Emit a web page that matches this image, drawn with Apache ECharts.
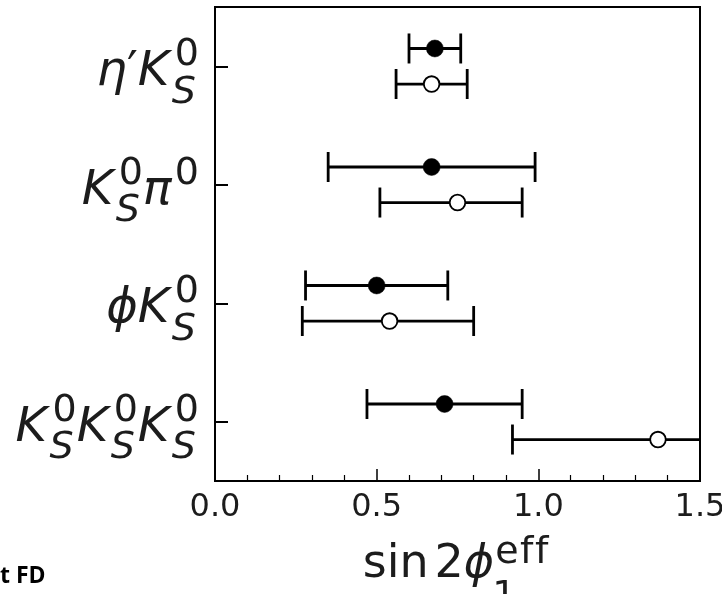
<!DOCTYPE html>
<html>
<head>
<meta charset="utf-8">
<script src="https://cdn.jsdelivr.net/npm/echarts@6/dist/echarts.min.js"></script>
<style>
  html, body { margin: 0; padding: 0; background: #fff; }
  #chart { width: 722px; height: 594px; }
</style>
</head>
<body>
<div id="chart"></div>
<script>
// Decay modes, top to bottom. "_x" is a subscript, "^x" a superscript,
// "{...}" groups an upright multi-letter script, "\sin" is an upright operator.
const categories = ['η′K_S^0', 'K_S^0π^0', 'ϕK_S^0', 'K_S^0K_S^0K_S^0'];
const xTitle = '\\sin 2ϕ_1^{eff}';
const xTickLabels = ['0.0', '0.5', '1.0', '1.5'];
const footnote = 't FD';

// Filled markers: central value and lower / upper end of the error bar
const filledValue = [0.68, 0.67, 0.50, 0.71];
const filledLow   = [0.60, 0.35, 0.28, 0.47];
const filledHigh  = [0.76, 0.99, 0.72, 0.95];

// Open markers: central value and lower / upper end of the error bar
const openValue = [0.67, 0.75, 0.54, 1.37];
const openLow   = [0.56, 0.51, 0.27, 0.92];
const openHigh  = [0.78, 0.95, 0.80, 1.82];

const FONT = '"DejaVu Sans"';
const TEXT_COLOR = '#1c1c1c';

// ---- small math-text layout helper (base glyphs with stacked sub/superscripts) ----
const measureCtx = document.createElement('canvas').getContext('2d');
function measure(text, font) {
  measureCtx.font = font;
  measureCtx.textBaseline = 'alphabetic';
  return measureCtx.measureText(text);
}
// distance from the "middle" baseline (used by zrender) down to the alphabetic baseline
function middleToBaseline(font) {
  measureCtx.font = font;
  measureCtx.textBaseline = 'middle';
  const d = measureCtx.measureText('H').actualBoundingBoxDescent;
  measureCtx.textBaseline = 'alphabetic';
  return d;
}
function parseMath(src) {
  const pieces = [];
  let i = 0;
  const readArg = () => {
    if (src[i] === '{') {
      const j = src.indexOf('}', i);
      const s = src.slice(i + 1, j);
      i = j + 1;
      return { text: s, upright: true };
    }
    return { text: src[i++], upright: false };
  };
  while (i < src.length) {
    const ch = src[i];
    if (ch === '_' || ch === '^') {
      i++;
      pieces[pieces.length - 1][ch === '_' ? 'sub' : 'sup'] = readArg();
    } else if (src.startsWith('\\sin', i)) {
      pieces.push({ text: 'sin', upright: true });
      i += 4;
    } else if (ch === ' ') {
      pieces.push({ space: true });
      i++;
    } else {
      pieces.push({ text: ch, upright: false });
      i++;
    }
  }
  return pieces;
}
function fontFor(tok, size) {
  const italic = !tok.upright && /[A-Za-z\u0370-\u03FF]/.test(tok.text);
  return (italic ? 'italic ' : '') + size + 'px ' + FONT;
}
// places a script string glyph by glyph (with optional extra tracking); returns its end x
function placeScript(parts, tok, size, x, dy, tracking) {
  const font = fontFor(tok, size);
  for (const ch of tok.text) {
    parts.push({ text: ch, font, x, dy });
    x += measure(ch, font).width + tracking;
  }
  return x - tracking;
}
function mathText(src, o) {
  const parts = [];
  let x = 0;
  for (const p of parseMath(src)) {
    if (p.space) { x += o.space; continue; }
    const font = fontFor(p, o.size);
    const m = measure(p.text, font);
    parts.push({ text: p.text, font, x, dy: 0 });
    let end = x + m.width;
    if (p.sup || p.sub) {
      const ink = Math.max(m.width, m.actualBoundingBoxRight);
      if (p.sup) {
        const e = placeScript(parts, p.sup, o.script, x + ink + o.supGap, -o.supRise, o.tracking);
        end = Math.max(end, e + o.after);
      }
      if (p.sub) {
        const e = placeScript(parts, p.sub, o.script, x + ink + o.subGap, o.subDrop, o.tracking);
        end = Math.max(end, e + o.after);
      }
    }
    x = end;
  }
  const x0 = o.align === 'right' ? o.x - x : o.align === 'center' ? o.x - x / 2 : o.x;
  return {
    type: 'group',
    silent: true,
    children: parts.map(pt => ({
      type: 'text',
      x: x0 + pt.x,
      y: o.baseline + pt.dy - middleToBaseline(pt.font),
      style: {
        text: pt.text,
        font: pt.font,
        fill: TEXT_COLOR,
        align: 'left',
        verticalAlign: 'middle'
      }
    }))
  };
}

// ---- error bars with markers ----
const CAP = 15;
function errorBarRenderer(offsetFrac, filled) {
  return function (params, api) {
    const cat = api.value(1);
    const band = api.size([0, 1])[1];
    const c = api.coord([api.value(0), cat]);
    const lo = api.coord([api.value(2), cat]);
    const hi = api.coord([api.value(3), cat]);
    const y = c[1] + offsetFrac * band;
    const line = { stroke: '#000', lineWidth: 2.8 };
    return {
      type: 'group',
      children: [
        { type: 'line', shape: { x1: lo[0], y1: y, x2: hi[0], y2: y }, style: line },
        { type: 'line', shape: { x1: lo[0], y1: y - CAP, x2: lo[0], y2: y + CAP }, style: line },
        { type: 'line', shape: { x1: hi[0], y1: y - CAP, x2: hi[0], y2: y + CAP }, style: line },
        {
          type: 'circle',
          shape: { cx: c[0], cy: y, r: filled ? 8.5 : 7.8 },
          style: filled
            ? { fill: '#000', stroke: '#000', lineWidth: 0.5 }
            : { fill: '#fff', stroke: '#000', lineWidth: 1.8 }
        }
      ]
    };
  };
}

const filledData = filledValue.map((v, i) => [v, i, filledLow[i], filledHigh[i]]);
const openData = openValue.map((v, i) => [v, i, openLow[i], openHigh[i]]);

const chart = echarts.init(document.getElementById('chart'), null, { renderer: 'canvas' });
chart.setOption({
  animation: false,
  backgroundColor: '#fff',
  grid: {
    left: 215, right: 22, top: 7, bottom: 113,
    containLabel: false,
    outerBoundsMode: 'none',
    show: true, borderColor: '#000', borderWidth: 2, backgroundColor: 'transparent'
  },
  xAxis: {
    type: 'value',
    min: 0, max: 1.5, interval: 0.5,
    axisLine: { show: false },
    splitLine: { show: false },
    axisTick: { show: true, inside: true, length: 12, lineStyle: { color: '#000', width: 1.5 } },
    minorTick: { show: true, splitNumber: 5, length: 6, lineStyle: { color: '#000', width: 1.2 } },
    axisLabel: {
      margin: 11,
      fontSize: 32,
      fontFamily: FONT,
      color: TEXT_COLOR,
      hideOverlap: false,
      formatter: v => xTickLabels[Math.round(v / 0.5)]
    }
  },
  yAxis: {
    type: 'category',
    data: categories,
    inverse: true,
    axisLine: { show: false },
    splitLine: { show: false },
    axisTick: { show: true, inside: true, alignWithLabel: true, length: 13, lineStyle: { color: '#000', width: 2 } },
    axisLabel: { show: false }
  },
  graphic: [{
    type: 'text',
    x: 0,
    y: 582.5 - middleToBaseline('bold 23px "Open Sans"'),
    style: { text: footnote, font: 'bold 23px "Open Sans"', fill: '#000', verticalAlign: 'middle' }
  }],
  series: [
    {
      name: 'filled',
      type: 'custom',
      clip: true,
      data: filledData,
      encode: { x: [0, 2, 3], y: 1 },
      renderItem: errorBarRenderer(-0.15, true)
    },
    {
      name: 'open',
      type: 'custom',
      clip: true,
      data: openData,
      encode: { x: [0, 2, 3], y: 1 },
      renderItem: errorBarRenderer(0.15, false)
    },
    {
      // category labels drawn as math text next to the y ticks
      name: 'modeLabels',
      type: 'custom',
      silent: true,
      clip: false,
      data: categories.map((c, i) => [0, i]),
      encode: { x: 0, y: 1 },
      renderItem: (params, api) => {
        const i = api.value(1);
        const p = api.coord([0, i]);
        return mathText(categories[i], {
          x: params.coordSys.x - 16, align: 'right', baseline: p[1] + 19,
          size: 48, script: 38, supGap: 2, subGap: -1, supRise: 20, subDrop: 17.5,
          after: 0, space: 0, tracking: 0
        });
      }
    },
    {
      // x-axis title
      name: 'xTitle',
      type: 'custom',
      silent: true,
      clip: false,
      data: [[0.75, 0]],
      encode: { x: 0, y: 1 },
      renderItem: (params, api) => {
        const cs = params.coordSys;
        return mathText(xTitle, {
          x: api.coord([api.value(0), 0])[0] - 2, align: 'center', baseline: cs.y + cs.height + 96,
          size: 46, script: 38, supGap: 1, subGap: -2, supRise: 14, subDrop: 30,
          after: 0, space: 6, tracking: 1.5
        });
      }
    }
  ]
});
</script>
</body>
</html>
